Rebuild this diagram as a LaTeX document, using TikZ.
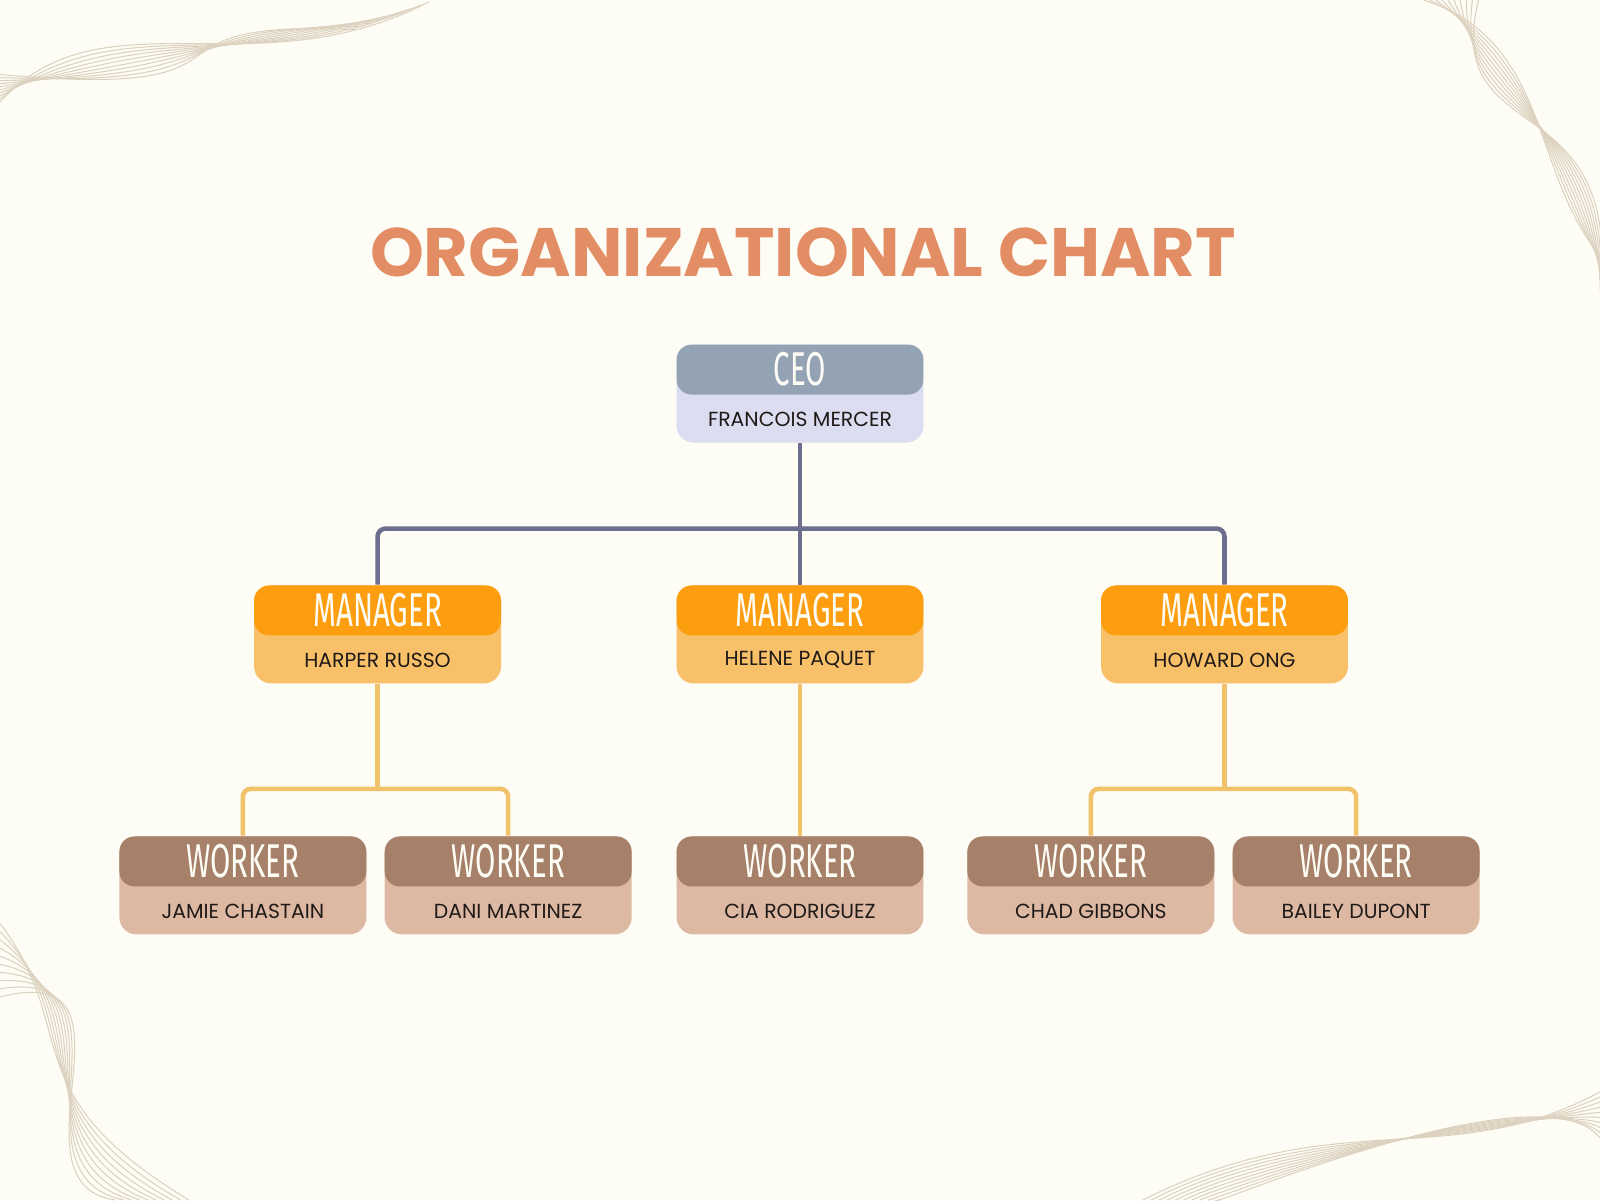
\documentclass[tikz,border=0pt]{standalone}
\usepackage{fontspec}
\setmainfont{Poppins}
\newfontfamily\headfont[FakeStretch=0.62]{Fira Sans}
\usetikzlibrary{positioning}
\usetikzlibrary{calc}
\definecolor{paper}{HTML}{FDFCF5}
\definecolor{titleorange}{HTML}{E38D65}
\definecolor{ceohead}{HTML}{94A3B4}
\definecolor{ceobody}{HTML}{DCDDF0}
\definecolor{mgrhead}{HTML}{FD9E10}
\definecolor{mgrbody}{HTML}{F8C068}
\definecolor{wkhead}{HTML}{A68068}
\definecolor{wkbody}{HTML}{DDB9A4}
\definecolor{topline}{HTML}{6E6F8E}
\definecolor{lowline}{HTML}{F0C36A}
\definecolor{inkdark}{HTML}{1F1A17}
\definecolor{swirl}{HTML}{DDD2BF}
\tikzset{
  card/.style={draw=none, rounded corners=0.17cm, minimum width=2.47cm, minimum height=0.98cm, inner sep=0pt},
  cardhead/.style={draw=none, rounded corners=0.15cm, minimum width=2.47cm, minimum height=0.5cm, inner sep=0pt,
    text=paper, font=\headfont\fontsize{13.5}{13.5}\selectfont},
  cardname/.style={font=\fontsize{5.8}{7}\selectfont, text=inkdark, inner sep=0pt},
  link/.style={line width=1.3pt, rounded corners=0.08cm},
}
% box: name, x, y (top), header, person, head colour, body colour
\newcommand{\orgcard}[7]{
  \node[card, fill=#7, anchor=north] (#1) at (#2,#3) {};
  \node[cardhead, fill=#6, anchor=north] (#1h) at (#1.north) {#4};
  \node[cardname] (#1n) at ($(#1.south)!0.5!(#1h.south)$) {#5};
}
\begin{document}
\begin{tikzpicture}[x=0.010204cm,y=-0.010204cm]
  \useasboundingbox[fill=paper] (0,0) rectangle (1568,1176);
  % corner swirls
  \foreach \k in {0,...,9}{
    \draw[swirl, line width=0.3pt] (0,{100-3*\k}) .. controls ({100+20*\k},{-10+12*\k}) and ({250-15*\k},{90-8*\k}) .. ({420-8*\k},{2+3*\k});
    \draw[swirl, line width=0.3pt] ({1395+6*\k},0) .. controls ({1520-12*\k},{40+12*\k}) and ({1500+10*\k},{170-10*\k}) .. (1568,{250+4*\k});
    \draw[swirl, line width=0.3pt] (0,{905+8*\k}) .. controls ({80+8*\k},{1010-8*\k}) and ({10-1*\k},{1070+10*\k}) .. ({185-8*\k},1176);
    \draw[swirl, line width=0.3pt] ({1120+8*\k},1176) .. controls ({1310-15*\k},{1080+12*\k}) and ({1420+10*\k},{1150-12*\k}) .. (1568,{1070+5*\k});
  }
  \node[font=\bfseries\fontsize{19.5}{19.5}\selectfont, text=titleorange] (title) at (787,247) {ORGANIZATIONAL CHART};

  \orgcard{ceo}{784}{337}{CEO}{FRANCOIS MERCER}{ceohead}{ceobody}
  \orgcard{mgra}{370}{573}{MANAGER}{HARPER RUSSO}{mgrhead}{mgrbody}
  \orgcard{mgrb}{784}{573}{MANAGER}{HELENE PAQUET}{mgrhead}{mgrbody}
  \orgcard{mgrc}{1200}{573}{MANAGER}{HOWARD ONG}{mgrhead}{mgrbody}
  \orgcard{wka}{238}{819}{WORKER}{JAMIE CHASTAIN}{wkhead}{wkbody}
  \orgcard{wkb}{498}{819}{WORKER}{DANI MARTINEZ}{wkhead}{wkbody}
  \orgcard{wkc}{784}{819}{WORKER}{CIA RODRIGUEZ}{wkhead}{wkbody}
  \orgcard{wkd}{1069}{819}{WORKER}{CHAD GIBBONS}{wkhead}{wkbody}
  \orgcard{wke}{1329}{819}{WORKER}{BAILEY DUPONT}{wkhead}{wkbody}

  \coordinate (bus) at (784,518);
  \coordinate (busa) at (370,773);
  \coordinate (busc) at (1200,773);
  \draw[link, topline] (ceo.south) -- (mgrb.north);
  \draw[link, topline] (mgra.north) -- (mgra.north |- bus) -- (mgrc.north |- bus) -- (mgrc.north);
  \draw[link, lowline] (mgra.south) -- (busa);
  \draw[link, lowline] (wka.north) -- (wka.north |- busa) -- (wkb.north |- busa) -- (wkb.north);
  \draw[link, lowline] (mgrb.south) -- (wkc.north);
  \draw[link, lowline] (mgrc.south) -- (busc);
  \draw[link, lowline] (wkd.north) -- (wkd.north |- busc) -- (wke.north |- busc) -- (wke.north);
\end{tikzpicture}
\end{document}
